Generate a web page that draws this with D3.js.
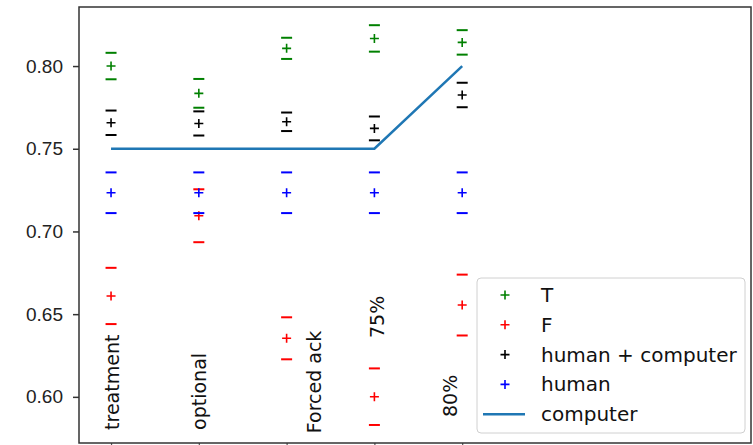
<!DOCTYPE html>
<html>
<head>
<meta charset="utf-8">
<script src="https://cdn.jsdelivr.net/npm/d3@7"></script>
<style>
  body { margin: 0; background: #fff; }
  svg { display: block; font-family: "DejaVu Sans", sans-serif; }
</style>
</head>
<body>
<svg id="chart" width="753" height="445"></svg>
<script>
// categories and values
const categories = ["treatment", "optional", "Forced ack", "75%", "80%"];
const tValues = [0.800, 0.7835, 0.8107, 0.8167, 0.8143];
const tErrors = [0.008, 0.0087, 0.0064, 0.008, 0.0074];
const fValues = [0.661, 0.7095, 0.6354, 0.6001, 0.6555];
const fErrors = [0.017, 0.016, 0.0127, 0.0171, 0.0184];
const hcValues = [0.7657, 0.7653, 0.7663, 0.7623, 0.7825];
const hcErrors = [0.0074, 0.0073, 0.0056, 0.0072, 0.0074];
const humanValues = [0.7234, 0.7234, 0.7234, 0.7234, 0.7234];
const humanErrors = [0.0123, 0.0123, 0.0123, 0.0123, 0.0123];
const computerValues = [0.75, 0.75, 0.75, 0.75, 0.80];
const yTicks = [0.60, 0.65, 0.70, 0.75, 0.80];
// where each category name was written inside the plot (data units)
const labelX = [0.091, 1.079, 2.392, 3.109, 3.94];
const labelY = [0.580, 0.580, 0.578, 0.6356, 0.5878];

const series = [
    { name: "T", values: tValues, errors: tErrors, color: "#008000" },
    { name: "F", values: fValues, errors: fErrors, color: "#ff0000" },
    { name: "human + computer", values: hcValues, errors: hcErrors, color: "#000000" },
    { name: "human", values: humanValues, errors: humanErrors, color: "#0000ff" }
];

const svg = d3.select("#chart");
const plot = { left: 79, right: 751, top: 7, bottom: 443 };

const x = d3.scaleLinear().domain([-0.365, 7.29]).range([plot.left, plot.right]);
const y = d3.scaleLinear().domain([0.5721, 0.8357]).range([plot.bottom, plot.top]);

// y axis
svg.append("g")
    .attr("transform", `translate(${plot.left},0)`)
    .call(d3.axisLeft(y).tickValues(yTicks).tickFormat(d3.format(".2f")).tickSize(6).tickPadding(10))
    .call(g => g.select(".domain").remove())
    .call(g => g.selectAll("line").attr("stroke", "#333").attr("stroke-width", 1.5))
    .call(g => g.selectAll("text").attr("font-size", 19).attr("fill", "#222"));

// x ticks (mostly cut off by the bottom edge)
svg.append("g")
    .attr("transform", `translate(0,${plot.bottom})`)
    .call(d3.axisBottom(x).tickValues(d3.range(categories.length)).tickFormat("").tickSize(6))
    .call(g => g.select(".domain").remove())
    .call(g => g.selectAll("line").attr("stroke", "#555").attr("stroke-width", 1.2));

svg.append("clipPath").attr("id", "clip")
    .append("rect")
    .attr("x", plot.left).attr("y", plot.top)
    .attr("width", plot.right - plot.left).attr("height", plot.bottom - plot.top);

const body = svg.append("g").attr("clip-path", "url(#clip)");

// error caps and plus markers
const capHalf = 5.5, plusHalf = 4.5;
series.forEach(s => {
    const g = body.append("g");
    s.values.forEach((v, i) => {
        const cx = x(i);
        [v - s.errors[i], v + s.errors[i]].forEach(e => {
            g.append("line")
                .attr("x1", cx - capHalf).attr("x2", cx + capHalf)
                .attr("y1", y(e)).attr("y2", y(e))
                .attr("stroke", s.color).attr("stroke-width", 2);
        });
        g.append("path")
            .attr("d", `M${cx - plusHalf},${y(v)}H${cx + plusHalf}M${cx},${y(v) - plusHalf}V${y(v) + plusHalf}`)
            .attr("stroke", s.color).attr("stroke-width", 1.6).attr("fill", "none");
    });
});

// computer line
const line = d3.line()
    .x((d, i) => x(i))
    .y(d => y(d));

body.append("path")
    .datum(computerValues)
    .attr("d", line)
    .attr("fill", "none")
    .attr("stroke", "#1f77b4")
    .attr("stroke-width", 2.5);

// category names written inside the axes
categories.forEach((c, i) => {
    body.append("text")
        .attr("transform", `translate(${x(labelX[i])},${y(labelY[i])}) rotate(-90)`)
        .attr("font-size", 19)
        .attr("fill", "#111")
        .text(c);
});

// frame
svg.append("rect")
    .attr("x", plot.left).attr("y", plot.top)
    .attr("width", plot.right - plot.left).attr("height", plot.bottom - plot.top)
    .attr("fill", "none").attr("stroke", "#333").attr("stroke-width", 1.5);

// legend
const legend = svg.append("g").attr("transform", "translate(477,278)");
legend.append("rect")
    .attr("width", 268).attr("height", 155).attr("rx", 4)
    .attr("fill", "#fff").attr("fill-opacity", 0.8)
    .attr("stroke", "#d0d0d0");

const entries = series.map(s => ({ name: s.name, color: s.color, kind: "plus" }))
    .concat([{ name: "computer", color: "#1f77b4", kind: "line" }]);

entries.forEach((e, i) => {
    const row = legend.append("g").attr("transform", `translate(0,${17 + i * 29.8})`);
    if (e.kind === "plus") {
        row.append("path")
            .attr("d", `M${28 - plusHalf},0H${28 + plusHalf}M28,${-plusHalf}V${plusHalf}`)
            .attr("stroke", e.color).attr("stroke-width", 1.6);
    } else {
        row.append("line")
            .attr("x1", 6).attr("x2", 48).attr("y1", 0).attr("y2", 0)
            .attr("stroke", e.color).attr("stroke-width", 2.5);
    }
    row.append("text")
        .attr("x", 64).attr("dy", "0.35em")
        .attr("font-size", 20).attr("fill", "#111")
        .text(e.name);
});
</script>
</body>
</html>
